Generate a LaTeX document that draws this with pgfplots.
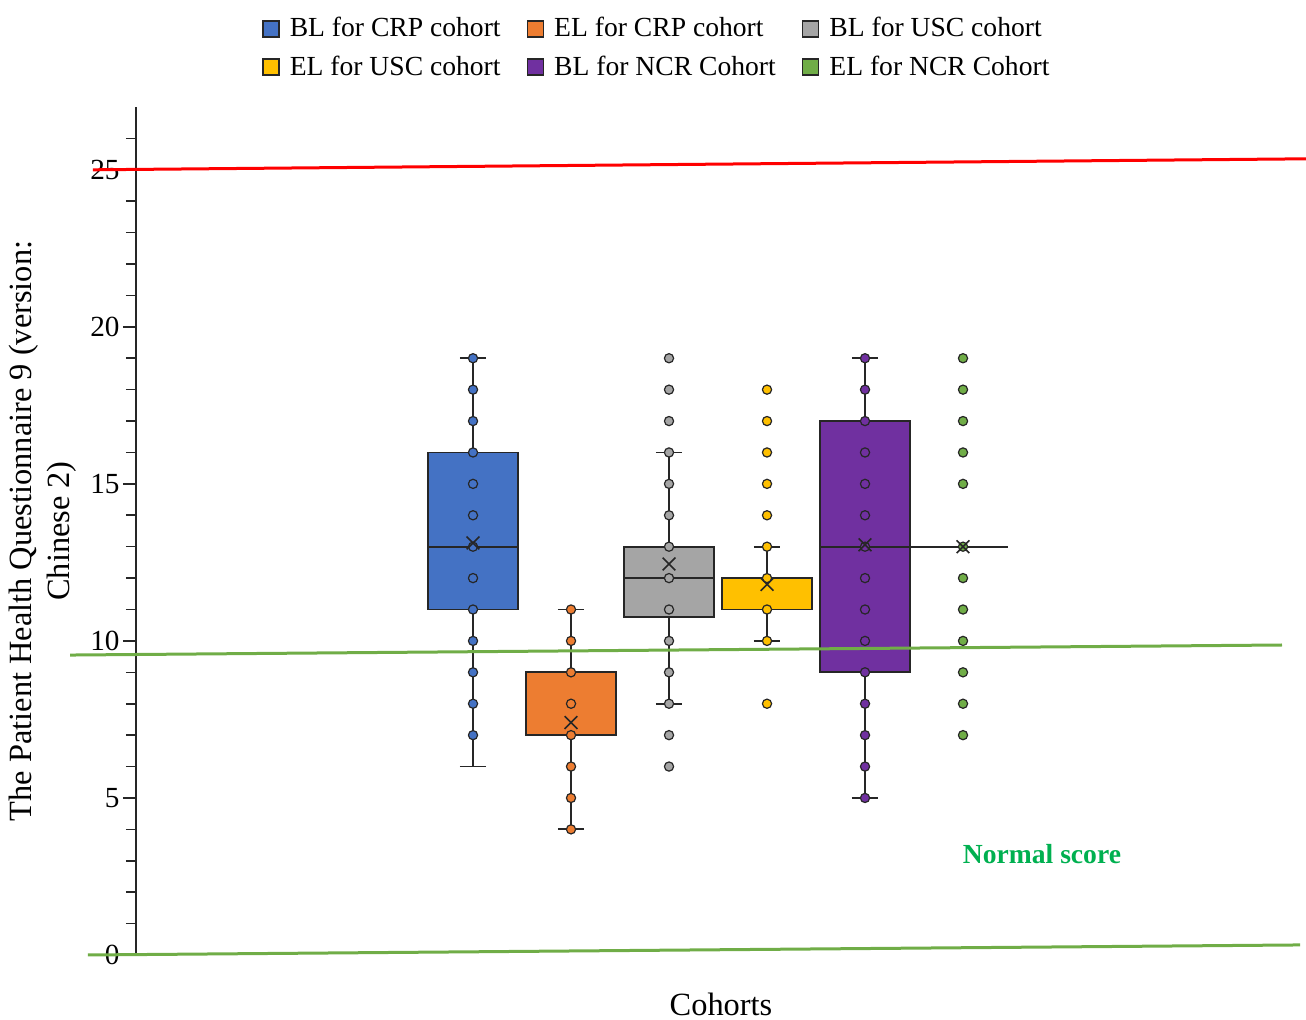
\documentclass[border=0pt]{standalone}
\usepackage{fontspec}
\setmainfont{Liberation Serif}
\usepackage{pgfplots}
\pgfplotsset{compat=1.18}
\usepgfplotslibrary{statistics}
\definecolor{cblue}{HTML}{4472C4}
\definecolor{corange}{HTML}{ED7D31}
\definecolor{cgray}{HTML}{A5A5A5}
\definecolor{cyellow}{HTML}{FFC000}
\definecolor{cpurple}{HTML}{7030A0}
\definecolor{cgreen}{HTML}{70AD47}
\definecolor{ctext}{HTML}{00B050}
\definecolor{cline}{HTML}{262626}
\pgfplotsset{
  sq/.style={legend image code/.code={\draw[##1] (0pt,-4pt) rectangle (8pt,4pt);}},
  bx/.style={boxplot/draw direction=y, boxplot/box extend=0.92, boxplot/whisker extend=0.27},
  dots/.style={only marks, mark=*, mark size=2.3pt, mark options={fill=#1, draw=cline, line width=0.6pt}, forget plot},
}
\begin{document}
\begin{tikzpicture}[font=\fontsize{13.8}{16}\selectfont]
\begin{axis}[
  scale only axis, width=585pt, height=424pt,
  xmin=-2.439, xmax=9.5, ymin=0, ymax=27,
  axis y line=left, axis x line=none,
  axis line style={-, line width=0.8pt, color=cline},
  xtick=\empty,
  ytick={0,5,10,15,20,25},
  minor ytick={1,2,3,4,6,7,8,9,11,12,13,14,16,17,18,19,21,22,23,24,26},
  tick align=outside, major tick length=6.5pt, minor tick length=5pt,
  every tick/.style={line width=0.8pt, color=cline},
  /pgf/number format/assume math mode=true,
  yticklabel style={font=\fontsize{14.6}{16}\selectfont, inner xsep=1.5pt},
  clip=false,
  ylabel={The Patient Health Questionnaire 9 (version:\\Chinese 2)},
  ylabel style={at={(rel axis cs:-0.0799,0.5)}, anchor=center, align=center, font=\fontsize{16.2}{19}\selectfont},
  legend columns=3,
  legend style={draw=none, fill=none, at={(rel axis cs:0.446,1.0696)}, anchor=center,
    font=\fontsize{13.8}{16}\selectfont, row sep=4pt,
    /tikz/every even column/.append style={column sep=11pt},
    /tikz/every odd column/.append style={column sep=3pt}},
  legend cell align=left,
]
\coordinate (O) at (rel axis cs:0,0);
\addlegendimage{sq, fill=cblue, draw=cline, line width=0.8pt}
\addlegendentry{BL for CRP cohort}
\addlegendimage{sq, fill=corange, draw=cline, line width=0.8pt}
\addlegendentry{EL for CRP cohort}
\addlegendimage{sq, fill=cgray, draw=cline, line width=0.8pt}
\addlegendentry{BL for USC cohort}
\addlegendimage{sq, fill=cyellow, draw=cline, line width=0.8pt}
\addlegendentry{EL for USC cohort}
\addlegendimage{sq, fill=cpurple, draw=cline, line width=0.8pt}
\addlegendentry{BL for NCR Cohort}
\addlegendimage{sq, fill=cgreen, draw=cline, line width=0.8pt}
\addlegendentry{EL for NCR Cohort}

% boxes
\addplot[bx, boxplot prepared={draw position=1, lower whisker=6, lower quartile=11, median=13, upper quartile=16, upper whisker=19}, fill=cblue, draw=cline, line width=0.9pt, forget plot] coordinates {};
\addplot[bx, boxplot prepared={draw position=2, lower whisker=4, lower quartile=7, median=7, upper quartile=9, upper whisker=11}, fill=corange, draw=cline, line width=0.9pt, forget plot] coordinates {};
\addplot[bx, boxplot prepared={draw position=3, lower whisker=8, lower quartile=10.75, median=12, upper quartile=13, upper whisker=16}, fill=cgray, draw=cline, line width=0.9pt, forget plot] coordinates {};
\addplot[bx, boxplot prepared={draw position=4, lower whisker=10, lower quartile=11, median=12, upper quartile=12, upper whisker=13}, fill=cyellow, draw=cline, line width=0.9pt, forget plot] coordinates {};
\addplot[bx, boxplot prepared={draw position=5, lower whisker=5, lower quartile=9, median=13, upper quartile=17, upper whisker=19}, fill=cpurple, draw=cline, line width=0.9pt, forget plot] coordinates {};
\addplot[cline, line width=0.9pt, forget plot] coordinates {(4.69,13) (6.46,13)};

% points
\addplot[dots=cblue] coordinates {(1,7)(1,8)(1,9)(1,10)(1,11)(1,12)(1,13)(1,14)(1,15)(1,16)(1,17)(1,18)(1,19)};
\addplot[dots=corange] coordinates {(2,4)(2,5)(2,6)(2,7)(2,8)(2,9)(2,10)(2,11)};
\addplot[dots=cgray] coordinates {(3,6)(3,7)(3,8)(3,9)(3,10)(3,11)(3,12)(3,13)(3,14)(3,15)(3,16)(3,17)(3,18)(3,19)};
\addplot[dots=cyellow] coordinates {(4,8)(4,10)(4,11)(4,12)(4,13)(4,14)(4,15)(4,16)(4,17)(4,18)};
\addplot[dots=cpurple] coordinates {(5,5)(5,6)(5,7)(5,8)(5,9)(5,10)(5,11)(5,12)(5,13)(5,14)(5,15)(5,16)(5,17)(5,18)(5,19)};
\addplot[dots=cgreen] coordinates {(6,7)(6,8)(6,9)(6,10)(6,11)(6,12)(6,13)(6,15)(6,16)(6,17)(6,18)(6,19)};

% means
\addplot[only marks, mark=x, mark size=4.5pt, mark options={draw=cline, line width=0.8pt}, forget plot]
  coordinates {(1,13.12)(2,7.4)(3,12.45)(4,11.8)(5,13.06)(6,13)};

% reference lines
\addplot[red, line width=1.5pt, forget plot] coordinates {(-2.878,25.0) (9.5,25.35)};
\addplot[cgreen, line width=1.5pt, forget plot] coordinates {(-3.112,9.55) (9.255,9.87)};
\addplot[cgreen, line width=1.5pt, forget plot] coordinates {(-2.929,0.0) (9.439,0.32)};

\node[font=\bfseries\fontsize{13.8}{16}\selectfont, text=ctext] at (axis cs:6.806,3.22) {Normal score};
\node[font=\fontsize{16.2}{19}\selectfont] at (rel axis cs:0.5,-0.058) {Cohorts};
\end{axis}
\pgfresetboundingbox
\path ([shift={(-68pt,-32.5pt)}]O) rectangle ([shift={(585pt,477.5pt)}]O);
\end{tikzpicture}
\end{document}
